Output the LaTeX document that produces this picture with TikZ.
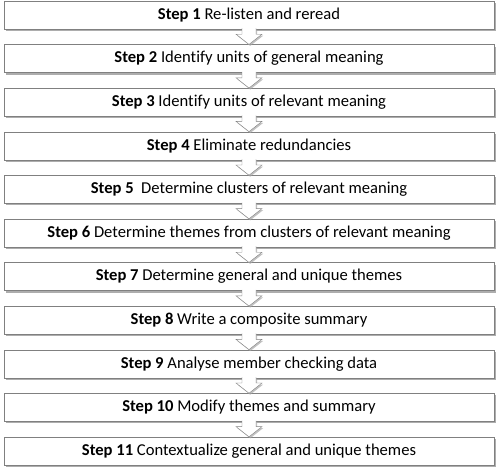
\documentclass[tikz,border=0pt]{standalone}
\usepackage{fontspec}
\setmainfont{Carlito}[Ligatures=NoCommon]
\usetikzlibrary{calc}
\usetikzlibrary{shadows}

\begin{document}
\begin{tikzpicture}[x=1pt,y=1pt,
    stepbox/.style={draw=gray,fill=white,minimum width=490pt,minimum height=28pt,inner sep=0pt,
      font=\fontsize{16.6}{19}\selectfont,
      drop shadow={shadow xshift=1.8pt,shadow yshift=-2pt,fill=gray!80,opacity=0.8}},
    downarrow/.style={draw=gray,fill=white,line join=miter,
      drop shadow={shadow xshift=1.2pt,shadow yshift=-1.5pt,fill=gray!70,opacity=0.7}}]
    \useasboundingbox (0,0) rectangle (498,-471);
    % the eleven steps
    \foreach \n/\txt in {1/Re-listen and reread,2/Identify units of general meaning,
        3/Identify units of relevant meaning,4/Eliminate redundancies,
        5/\ Determine clusters of relevant meaning,6/Determine themes from clusters of relevant meaning,
        7/Determine general and unique themes,8/Write a composite summary,
        9/Analyse member checking data,10/Modify themes and summary,
        11/Contextualize general and unique themes}
      \node[stepbox] (s\n) at (249,{-15-43.6*(\n-1)}) {\textbf{Step \n} \txt};
    % hollow arrows between the steps
    \foreach \a [evaluate=\a as \b using int(\a+1)] in {1,...,10}
      \filldraw[downarrow] ($(s\a.south)+(-7,1)$) -- ($(s\a.south)+(-7,-5)$)
        -- ($(s\a.south)+(-13,-5)$) -- (s\b.north) -- ($(s\a.south)+(13,-5)$)
        -- ($(s\a.south)+(7,-5)$) -- ($(s\a.south)+(7,1)$);
\end{tikzpicture}
\end{document}
